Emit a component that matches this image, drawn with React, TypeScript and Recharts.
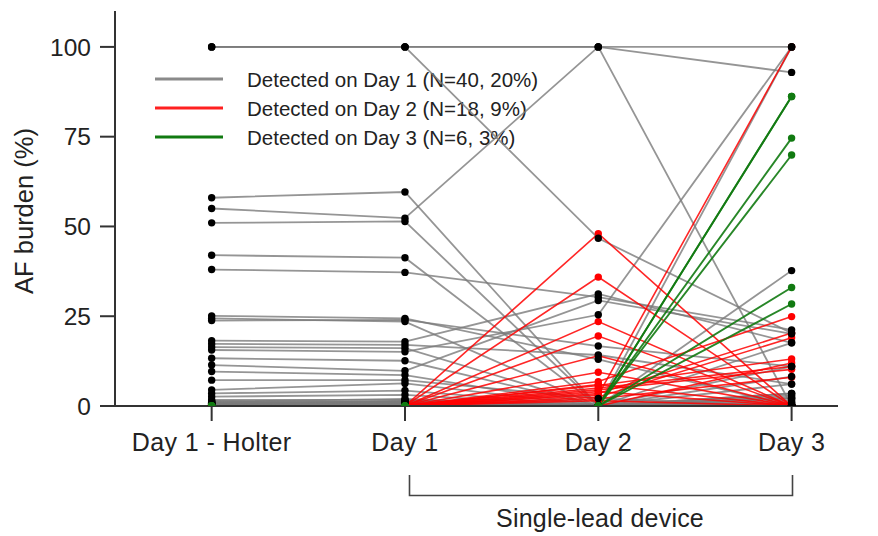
import React from "react";
import { LineChart, Line, XAxis, YAxis, Customized } from "recharts";

// ---------- data ----------
const categories = ["Day 1 - Holter", "Day 1", "Day 2", "Day 3"];
const yTicks = [0, 25, 50, 75, 100];
const legendLabels = [
  "Detected on Day 1 (N=40, 20%)",
  "Detected on Day 2 (N=18, 9%)",
  "Detected on Day 3 (N=6, 3%)",
];
const bracketLabel = "Single-lead device";
const yLabel = "AF burden (%)";

// [Holter, Day 1, Day 2, Day 3]
const grayValues: number[][] = [
  [100, 100, 100, 100],
  [100, 100, 100, 0],
  [100, 100, 46.7, 20.3],
  [58, 59.6, 0, 3.5],
  [55, 52.3, 100, 92.9],
  [51, 51.4, 0, 0],
  [42, 41.3, 0, 2.1],
  [38, 37.2, 30.3, 21.2],
  [25.1, 24.4, 13, 0],
  [24.4, 23.5, 0, 8.2],
  [23.8, 24.0, 16.7, 11.0],
  [18.2, 17.9, 31.2, 17.6],
  [17.3, 17.0, 14.2, 6.1],
  [16.4, 16.1, 0, 0],
  [15.6, 15.1, 25.4, 100],
  [13.3, 12.6, 0, 37.7],
  [11.4, 9.8, 29.4, 20.1],
  [9.6, 8.6, 0, 0],
  [7.2, 7.2, 2.1, 0],
  [4.5, 6.3, 0, 17.6],
  [3.5, 4.3, 0, 100],
  [2.6, 3.1, 0, 11],
  [1.7, 1.7, 0, 0],
  [1.0, 1.0, 0, 6.1],
  [0.5, 0.8, 0, 3.5],
  [0.8, 0.5, 0, 2.1],
  [0.3, 0.3, 0, 0],
  [0.5, 1.2, 0, 1.0],
  [0.2, 0.6, 0, 0.5],
  [0.4, 0.4, 0, 0],
  [1.2, 2.0, 0, 0],
  [0.6, 0.2, 0, 1.5],
  [0, 0.5, 0, 0],
  [0.3, 1.5, 0, 0],
  [0.8, 0.9, 0, 3.0],
  [0.2, 0.3, 0, 0],
  [1.4, 1.1, 0, 0],
  [0.1, 0.2, 0, 0.8],
  [0.7, 0.4, 0, 0],
  [0.9, 1.3, 0, 2.5],
];

const redValues: number[][] = [
  [0, 0, 48.0, 0],
  [0, 0, 35.9, 0],
  [0, 0, 23.5, 0],
  [0, 0, 19.5, 0],
  [0, 0, 14.0, 0],
  [0, 0, 9.4, 0],
  [0, 0, 6.8, 24.9],
  [0, 0, 5.7, 13.1],
  [0, 0, 4.5, 10.2],
  [0, 0, 3.1, 100],
  [0, 0, 3.5, 20.3],
  [0, 0, 2.5, 19.0],
  [0, 0, 4.0, 0],
  [0, 0, 6.0, 0],
  [0, 0, 2.0, 8.0],
  [0, 0, 1.5, 0],
  [0, 0, 5.0, 11.0],
  [0, 0, 0, 12.0],
];

const greenValues: number[][] = [
  [0, 0, 0, 86.2],
  [0, 0, 0, 86.2],
  [0, 0, 0, 74.6],
  [0, 0, 0, 69.9],
  [0, 0, 0, 33.0],
  [0, 0, 0, 28.4],
];

// ---------- table for recharts ----------
const rows = categories.map((_, i) => {
  const r: Record<string, number> = { x: i };
  grayValues.forEach((s, k) => (r[`g${k}`] = s[i]));
  redValues.forEach((s, k) => (r[`r${k}`] = s[i]));
  greenValues.forEach((s, k) => (r[`e${k}`] = s[i]));
  return r;
});

const FONT = "'Liberation Sans', Arial, Helvetica, sans-serif";
const GRAY = "#7a7a7a";
const RED = "#ff0000";
const GREEN = "#117a11";
const AXIS = "#333";
const TEXT = "#222";
const DOT_R = 3.7;

const Decorations = () => {
  const legendColors = ["#8a8a8a", "#ff2020", GREEN];
  return (
    <g>
      {legendLabels.map((t, i) => (
        <g key={t}>
          <line x1={155} x2={223} y1={79 + i * 29} y2={79 + i * 29} stroke={legendColors[i]} strokeWidth={3} />
          <text x={247} y={86.5 + i * 29} fontSize={20.5} fontFamily={FONT} fill={TEXT}>
            {t}
          </text>
        </g>
      ))}
      <text
        x={33}
        y={211}
        transform="rotate(-90, 33, 211)"
        textAnchor="middle"
        fontSize={25.5}
        fontFamily={FONT}
        fill={TEXT}
      >
        {yLabel}
      </text>
      <path d="M409.5,475 V495.5 H792.5 V475" fill="none" stroke="#444" strokeWidth={1.6} />
      <text x={600} y={527} textAnchor="middle" fontSize={25} fontFamily={FONT} fill={TEXT} letterSpacing={0.2}>
        {bracketLabel}
      </text>
    </g>
  );
};

const lineLayer = (keys: string[], color: string, width: number, opacity: number) =>
  keys.map((k) => (
    <Line
      key={`l-${k}`}
      dataKey={k}
      stroke={color}
      strokeWidth={width}
      strokeOpacity={opacity}
      dot={false}
      activeDot={false}
      isAnimationActive={false}
    />
  ));

const dotLayer = (keys: string[], color: string) =>
  keys.map((k) => (
    <Line
      key={`d-${k}`}
      dataKey={k}
      stroke="none"
      dot={{ r: DOT_R, fill: color, stroke: "none" }}
      activeDot={false}
      legendType="none"
      isAnimationActive={false}
    />
  ));

export default function App() {
  const gKeys = grayValues.map((_, k) => `g${k}`);
  const rKeys = redValues.map((_, k) => `r${k}`);
  const eKeys = greenValues.map((_, k) => `e${k}`);
  return (
    <div style={{ position: "absolute", left: 0, top: 0, background: "#fff" }}>
      <LineChart width={878} height={536} data={rows} margin={{ top: 11, right: 40, bottom: 0, left: 0 }}>
        <XAxis
          dataKey="x"
          type="number"
          domain={[-0.5, 3.24]}
          ticks={[0, 1, 2, 3]}
          interval={0}
          allowDataOverflow
          tickFormatter={(i: number) => categories[i]}
          height={130}
          tickSize={15}
          tickMargin={12}
          axisLine={{ stroke: AXIS, strokeWidth: 2 }}
          tickLine={{ stroke: AXIS, strokeWidth: 2 }}
          tick={{ fontSize: 25, fill: TEXT, fontFamily: FONT, letterSpacing: 0.4 }}
        />
        <YAxis
          type="number"
          domain={[0, 110]}
          ticks={yTicks}
          interval={0}
          allowDataOverflow
          width={115}
          tickSize={15}
          tickMargin={9}
          axisLine={{ stroke: AXIS, strokeWidth: 2 }}
          tickLine={{ stroke: AXIS, strokeWidth: 2 }}
          tick={{ fontSize: 24.5, fill: TEXT, fontFamily: FONT }}
        />
        {lineLayer(gKeys, GRAY, 1.8, 0.8)}
        {lineLayer(rKeys, RED, 1.6, 0.85)}
        {lineLayer(eKeys, GREEN, 1.9, 0.9)}
        {dotLayer(rKeys, RED)}
        {dotLayer(gKeys, "#000")}
        {dotLayer(eKeys, GREEN)}
        <Customized component={Decorations} />
      </LineChart>
    </div>
  );
}
